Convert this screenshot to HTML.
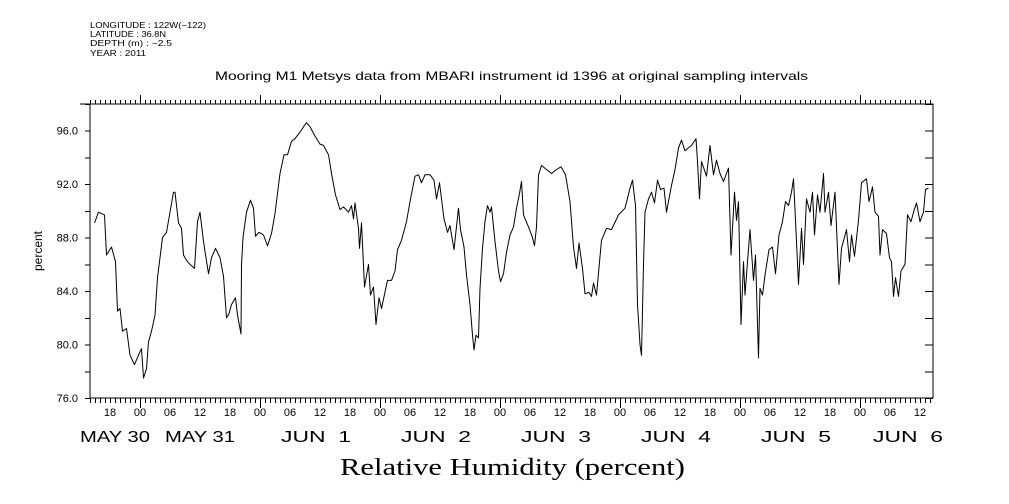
<!DOCTYPE html>
<html><head><meta charset="utf-8"><style>
body{margin:0;background:#fff;width:1009px;height:504px;overflow:hidden}
svg{display:block;font-family:"Liberation Sans",sans-serif}
</style></head><body>
<svg id="chart" width="1009" height="504" viewBox="0 0 1009 504">
<g font-size="8" fill="#000">
<text x="90" y="28" textLength="116" lengthAdjust="spacingAndGlyphs">LONGITUDE : 122W(−122)</text>
<text x="90" y="37" textLength="76" lengthAdjust="spacingAndGlyphs">LATITUDE : 36.8N</text>
<text x="90" y="46" textLength="82" lengthAdjust="spacingAndGlyphs">DEPTH (m) : −2.5</text>
<text x="90" y="56" textLength="56" lengthAdjust="spacingAndGlyphs">YEAR : 2011</text>
</g>
<text x="215" y="80" textLength="593" lengthAdjust="spacingAndGlyphs" font-size="12">Mooring M1 Metsys data from MBARI instrument id 1396 at original sampling intervals</text>
<text x="340" y="475" textLength="345" lengthAdjust="spacingAndGlyphs" font-size="24" font-family="Liberation Serif, serif">Relative Humidity (percent)</text>
<text transform="translate(42,251) rotate(-90)" text-anchor="middle" font-size="12">percent</text>
<g id="axes"></g>
<path id="series" fill="none" stroke="#000" stroke-width="1" stroke-linejoin="round"></path>
</svg>
<script>
// hours since May 31 00:00
const hours=[-9.1,-8.3,-7.7,-7.1,-6.7,-5.7,-4.9,-4.5,-4.0,-3.5,-2.7,-2.0,-1.1,-0.3,0.3,0.7,1.3,1.7,2.3,3.0,3.5,4.5,5.3,6.0,6.7,7.0,7.7,8.3,8.7,9.3,10.0,10.9,11.5,12.0,12.7,13.7,14.3,15.1,16.0,16.7,17.3,17.8,18.3,19.1,19.5,20.2,20.3,20.6,21.3,22.1,22.7,23.1,23.8,24.7,25.5,26.3,27.0,28.0,28.8,29.5,30.3,31.0,32.0,32.9,33.3,34.0,35.0,36.0,36.7,37.7,38.3,39.1,40.0,40.7,41.7,42.3,42.7,43.0,43.7,43.9,44.3,44.9,45.7,46.1,46.7,47.2,47.8,48.3,49.5,50.3,51.0,51.5,52.3,53.3,54.1,55.0,55.7,56.3,57.0,58.0,58.8,59.3,59.9,60.8,61.5,62.0,62.8,63.7,64.1,64.8,65.3,66.0,66.5,66.8,67.2,67.7,68.0,68.5,69.0,69.5,70.0,70.3,71.0,71.7,72.1,72.7,73.3,74.0,74.7,75.3,75.9,76.3,76.7,77.7,78.5,78.9,79.3,79.7,80.3,81.3,82.3,83.3,84.2,85.1,86.0,86.7,87.3,87.8,88.5,89.0,89.8,90.3,90.7,91.3,92.3,93.3,94.3,95.7,97.0,98.0,98.5,99.1,99.5,100.0,100.3,100.7,101.0,101.7,102.3,102.9,103.5,104.1,104.8,105.3,106.3,107.0,107.7,108.3,109.0,110.3,111.2,111.5,111.9,112.3,113.3,114.0,114.7,115.3,116.0,116.7,117.7,118.2,118.9,119.3,119.7,120.2,120.7,121.0,121.3,122.0,122.7,123.1,123.7,124.0,124.5,125.0,125.8,126.5,127.1,127.8,128.5,129.1,129.7,130.3,130.7,131.1,131.7,132.3,132.7,133.3,134.0,134.5,134.9,135.5,136.0,136.7,137.0,137.7,138.2,139.0,139.8,140.3,141.3,141.9,142.3,142.9,143.7,144.3,145.3,145.8,146.5,147.0,147.7,148.0,148.5,149.3,149.9,150.3,150.7,151.1,151.7,152.2,153.0,153.5,154.2,154.7,155.3,156.0,156.7,157.1,157.7];
const humidity=[89.1,89.9,89.8,89.7,86.7,87.3,86.2,82.5,82.7,81.0,81.2,79.2,78.5,79.2,79.7,77.5,78.2,80.2,81.0,82.2,85.0,88.0,88.4,89.9,91.4,91.4,89.1,88.7,86.7,86.3,86.0,85.7,89.2,89.9,87.7,85.3,86.5,87.2,86.5,85.1,82.0,82.3,83.0,83.5,82.2,80.8,86.0,88.0,89.9,90.8,90.2,88.1,88.4,88.2,87.4,88.3,89.8,92.8,94.2,94.2,95.2,95.4,95.9,96.4,96.6,96.3,95.6,95.0,94.9,94.2,92.8,91.2,90.1,90.3,89.9,90.4,89.4,90.6,88.7,87.2,89.1,84.3,86.0,83.7,84.3,81.5,83.5,82.7,84.8,84.8,85.5,87.1,87.8,89.2,90.9,92.6,92.7,92.1,92.7,92.7,92.3,90.9,92.1,89.4,88.4,88.9,87.1,90.2,88.6,87.3,85.2,83.0,80.7,79.6,80.7,80.5,84.2,87.2,89.2,90.4,89.9,90.3,87.7,85.5,84.7,85.3,86.9,88.2,88.8,90.2,91.3,92.2,89.7,88.8,88.0,87.4,88.8,92.7,93.4,93.1,92.8,93.1,93.3,92.7,90.7,87.3,85.7,87.6,85.7,83.8,83.9,83.6,84.6,83.7,87.8,88.7,88.6,89.7,90.2,91.7,92.3,90.4,83.0,80.0,79.2,86.0,89.9,90.9,91.4,90.6,92.3,91.6,91.7,89.9,91.9,93.1,94.7,95.3,94.5,94.9,95.4,93.7,90.9,93.7,92.6,94.9,92.7,93.8,92.8,92.2,93.2,86.7,91.4,89.3,90.7,81.5,86.2,83.7,85.2,88.6,84.8,86.7,79.0,84.2,83.7,85.2,87.1,87.3,85.3,88.2,89.2,90.7,90.4,91.4,92.4,89.3,84.5,88.7,86.0,90.9,89.9,91.4,88.2,91.2,89.9,92.8,89.9,91.4,88.9,91.4,84.5,87.2,88.6,86.2,88.2,86.6,89.3,92.1,92.4,90.7,91.8,89.9,89.6,86.7,88.6,88.3,86.5,86.2,83.6,85.0,83.6,85.5,86.0,89.7,89.2,89.9,90.6,89.2,89.9,91.6,91.7];
const yTickLabels=["76.0","80.0","84.0","88.0","92.0","96.0"];
const hourLabels=["18","00","06","12","18","00","06","12","18","00","06","12","18","00","06","12","18","00","06","12","18","00","06","12","18","00","06","12"];
const dateLabels=["MAY 30","MAY 31","JUN  1","JUN  2","JUN  3","JUN  4","JUN  5","JUN  6"];
const dateHours=[-12,12,35.2,59.2,83.2,107.2,131.2,153.6];

const L=90,R=933,T=104,B=398,Y0=76,Y1=98,H0=-10;
const xs=h=>140+h*5;
const ys=v=>B-(v-Y0)*(B-T)/(Y1-Y0);
const NS="http://www.w3.org/2000/svg";
const ax=document.getElementById('axes');
function mk(tag,attrs,txt){const e=document.createElementNS(NS,tag);for(const k in attrs)e.setAttribute(k,attrs[k]);if(txt!==undefined)e.textContent=txt;ax.appendChild(e);return e;}
let d=`M${L} ${T}H${R}V${B}H${L}Z M80 ${T}H${L}`;
for(let h=Math.ceil(H0);xs(h)<=R;h++){
  const x=xs(h)+0.5;const major=((h%24)+24)%24===0;
  d+=`M${x} ${T}V${T-(major?9:4)}M${x} ${B}V${B+(major?10:5)}`;
}
for(let v=Y0;v<=Y1;v+=2){const y=ys(v)+0.5;d+=`M${L} ${y}H${L-5}M${R} ${y}H${R-8}`;}
const fr=mk('path',{d:d,fill:'none',stroke:'#000','stroke-width':1,'shape-rendering':'crispEdges'});


yTickLabels.forEach((t,i)=>{
  const e=mk('text',{x:78,y:ys(parseFloat(t))+4,'text-anchor':'end','font-size':11},t);
  
  
});
hourLabels.forEach((t,i)=>{
  const e=mk('text',{x:xs(-6+i*6),y:416,'text-anchor':'middle','font-size':11},t);
  
  
});
dateLabels.forEach((t,i)=>{
  const cx=Math.max(xs(dateHours[i]),115);
  const e=mk('text',{x:cx-35,y:442,'font-size':16,textLength:70,lengthAdjust:'spacingAndGlyphs'},t);
  e.style.whiteSpace='pre';
  
  
});
let p='';
hours.forEach((h,i)=>{p+=(i?'L':'M')+xs(h).toFixed(1)+' '+ys(humidity[i]).toFixed(1);});
document.getElementById('series').setAttribute('d',p);
</script>
</body></html>
